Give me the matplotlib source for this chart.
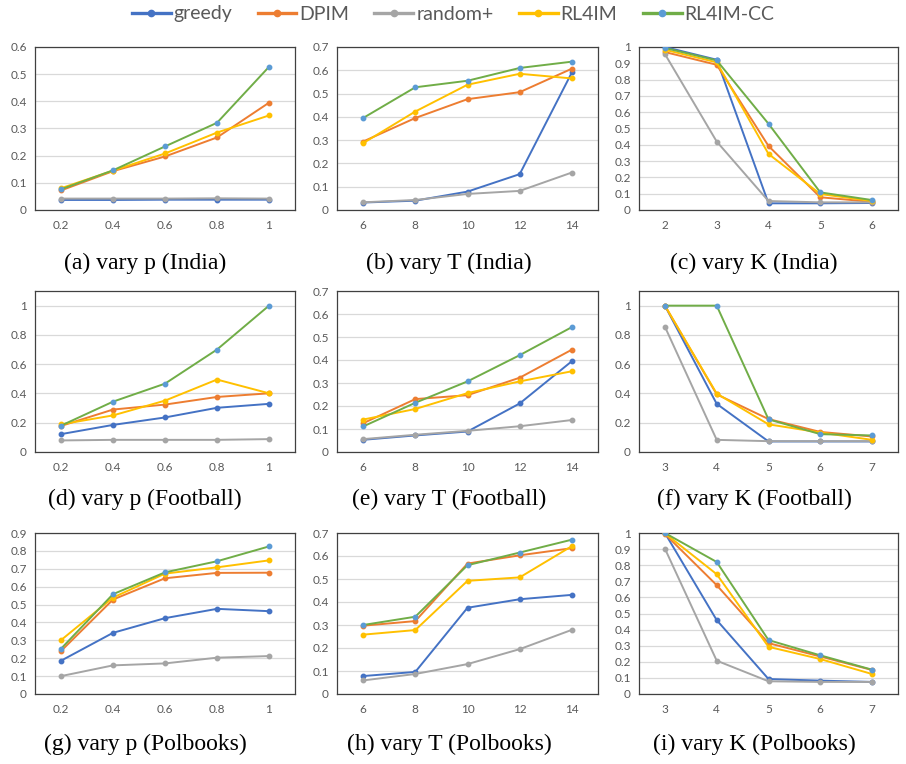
import numpy as np
import matplotlib
matplotlib.use("Agg")
import matplotlib.pyplot as plt
from matplotlib.lines import Line2D

# x categories
p_vals = ["0.2", "0.4", "0.6", "0.8", "1"]
T_vals = ["6", "8", "10", "12", "14"]
K_india = ["2", "3", "4", "5", "6"]
K_other = ["3", "4", "5", "6", "7"]

methods = ["greedy", "DPIM", "random+", "RL4IM", "RL4IM-CC"]

# (a) vary p (India)
a_greedy = [0.037, 0.037, 0.038, 0.038, 0.038]
a_dpim = [0.072, 0.143, 0.197, 0.267, 0.395]
a_rand = [0.042, 0.042, 0.042, 0.043, 0.042]
a_rl4im = [0.080, 0.145, 0.208, 0.285, 0.348]
a_cc = [0.076, 0.146, 0.234, 0.321, 0.527]

# (b) vary T (India)
b_greedy = [0.032, 0.040, 0.079, 0.154, 0.591]
b_dpim = [0.294, 0.395, 0.476, 0.506, 0.607]
b_rand = [0.033, 0.043, 0.069, 0.082, 0.161]
b_rl4im = [0.287, 0.423, 0.538, 0.585, 0.565]
b_cc = [0.395, 0.527, 0.555, 0.610, 0.637]

# (c) vary K (India)
c_greedy = [1.0, 0.922, 0.041, 0.041, 0.043]
c_dpim = [0.969, 0.891, 0.393, 0.078, 0.050]
c_rand = [0.957, 0.420, 0.055, 0.047, 0.047]
c_rl4im = [0.983, 0.906, 0.344, 0.098, 0.055]
c_cc = [0.994, 0.918, 0.529, 0.108, 0.061]

# (d) vary p (Football)
d_greedy = [0.122, 0.185, 0.236, 0.302, 0.329]
d_dpim = [0.178, 0.290, 0.324, 0.376, 0.401]
d_rand = [0.079, 0.083, 0.083, 0.083, 0.088]
d_rl4im = [0.189, 0.250, 0.351, 0.495, 0.401]
d_cc = [0.180, 0.344, 0.467, 0.700, 1.0]

# (e) vary T (Football)
e_greedy = [0.053, 0.072, 0.089, 0.211, 0.395]
e_dpim = [0.125, 0.230, 0.247, 0.323, 0.445]
e_rand = [0.056, 0.075, 0.092, 0.112, 0.139]
e_rl4im = [0.141, 0.187, 0.256, 0.307, 0.351]
e_cc = [0.111, 0.214, 0.307, 0.421, 0.543]

# (f) vary K (Football)
f_greedy = [1.0, 0.329, 0.072, 0.072, 0.072]
f_dpim = [1.0, 0.394, 0.225, 0.137, 0.106]
f_rand = [0.856, 0.083, 0.074, 0.074, 0.074]
f_rl4im = [1.0, 0.399, 0.189, 0.133, 0.083]
f_cc = [1.0, 1.0, 0.223, 0.122, 0.113]

# (g) vary p (Polbooks)
g_greedy = [0.186, 0.342, 0.424, 0.476, 0.463]
g_dpim = [0.240, 0.528, 0.647, 0.677, 0.678]
g_rand = [0.100, 0.160, 0.171, 0.203, 0.212]
g_rl4im = [0.301, 0.539, 0.673, 0.708, 0.747]
g_cc = [0.253, 0.558, 0.680, 0.742, 0.825]

# (h) vary T (Polbooks)
h_greedy = [0.078, 0.096, 0.375, 0.412, 0.431]
h_dpim = [0.297, 0.317, 0.567, 0.603, 0.634]
h_rand = [0.059, 0.087, 0.130, 0.195, 0.279]
h_rl4im = [0.258, 0.278, 0.492, 0.507, 0.643]
h_cc = [0.300, 0.336, 0.560, 0.615, 0.671]

# (i) vary K (Polbooks)
i_greedy = [1.0, 0.459, 0.093, 0.083, 0.075]
i_dpim = [0.994, 0.676, 0.316, 0.233, 0.149]
i_rand = [0.903, 0.207, 0.079, 0.075, 0.075]
i_rl4im = [0.998, 0.744, 0.293, 0.217, 0.124]
i_cc = [1.0, 0.820, 0.335, 0.240, 0.151]

captions = ["(a) vary p (India)", "(b) vary T (India)", "(c) vary K (India)",
            "(d) vary p (Football)", "(e) vary T (Football)", "(f) vary K (Football)",
            "(g) vary p (Polbooks)", "(h) vary T (Polbooks)", "(i) vary K (Polbooks)"]

panels = [
    (p_vals, [a_greedy, a_dpim, a_rand, a_rl4im, a_cc], 0.6, 0.1),
    (T_vals, [b_greedy, b_dpim, b_rand, b_rl4im, b_cc], 0.7, 0.1),
    (K_india, [c_greedy, c_dpim, c_rand, c_rl4im, c_cc], 1.0, 0.1),
    (p_vals, [d_greedy, d_dpim, d_rand, d_rl4im, d_cc], 1.1, 0.2),
    (T_vals, [e_greedy, e_dpim, e_rand, e_rl4im, e_cc], 0.7, 0.1),
    (K_other, [f_greedy, f_dpim, f_rand, f_rl4im, f_cc], 1.1, 0.2),
    (p_vals, [g_greedy, g_dpim, g_rand, g_rl4im, g_cc], 0.9, 0.1),
    (T_vals, [h_greedy, h_dpim, h_rand, h_rl4im, h_cc], 0.7, 0.1),
    (K_other, [i_greedy, i_dpim, i_rand, i_rl4im, i_cc], 1.0, 0.1),
]

line_colors = ["#4472C4", "#ED7D31", "#A5A5A5", "#FFC000", "#70AD47"]
marker_colors = ["#4472C4", "#ED7D31", "#A5A5A5", "#FFC000", "#5B9BD5"]
txt_gray = "#595959"

fig = plt.figure(figsize=(9.06, 7.64), dpi=100)

col_left = [35, 337, 639]
col_w = [260, 261, 259]
row_top = [47, 291, 533]
row_h = [163, 161, 161]
cap_x = [145, 449, 754]
cap_y = [263, 499, 744]

W, H = 906.0, 764.0
for idx, (xcats, series, ymax, ystep) in enumerate(panels):
    r, c = divmod(idx, 3)
    ax = fig.add_axes([col_left[c] / W, 1 - (row_top[r] + row_h[r]) / H,
                       col_w[c] / W, row_h[r] / H])
    for k in range(5):
        ax.plot(xcats, series[k], color=line_colors[k], lw=1.4,
                marker="o", ms=3.2, mfc=marker_colors[k], mec=marker_colors[k],
                zorder=3 + k * 0.1)
    ax.set_xlim(-0.5, 4.5)
    ax.set_ylim(0, ymax)
    top_tick = 1.0 if ymax > 1.0 else ymax
    ax.set_yticks(np.round(np.arange(0, top_tick + 1e-9, ystep), 2))
    ax.yaxis.set_major_formatter(plt.FuncFormatter(lambda v, _: "0" if v == 0 else f"{v:g}"))
    ax.grid(axis="y", color="#D9D9D9", lw=0.9)
    ax.set_axisbelow(True)
    ax.tick_params(length=0, labelsize=8.5, labelcolor=txt_gray)
    ax.tick_params(axis="x", pad=7)
    ax.tick_params(axis="y", pad=6)
    for sp in ax.spines.values():
        sp.set_color("#404040")
        sp.set_linewidth(0.9)
    for lab in ax.get_xticklabels() + ax.get_yticklabels():
        lab.set_family("Lato")
    fig.text(cap_x[c] / W, 1 - cap_y[r] / H, captions[idx], ha="center", va="center",
             family="Liberation Serif", fontsize=17, color="black")

handles = [Line2D([0], [0], color=line_colors[k], lw=2.4, marker="o", ms=4.5,
                  mfc=marker_colors[k], mec=marker_colors[k]) for k in range(5)]
leg = fig.legend(handles, methods, loc="center", bbox_to_anchor=(453 / W, 1 - 14 / H),
                 ncol=5, frameon=False, handlelength=2.0, handletextpad=0.15,
                 columnspacing=1.3, prop={"family": "Lato", "size": 14})
for t in leg.get_texts():
    t.set_color(txt_gray)

fig.savefig("out.png", dpi=100)
